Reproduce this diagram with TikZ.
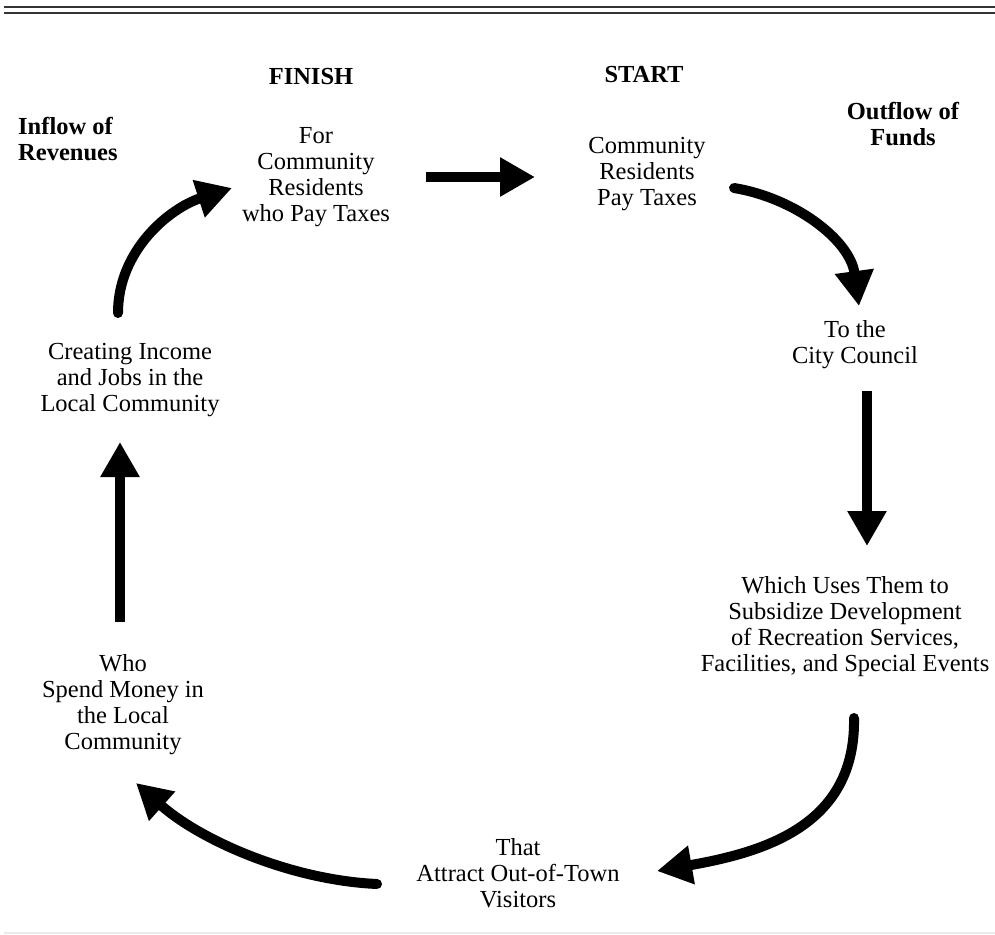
\documentclass[tikz,border=0pt]{standalone}
\usepackage{fontspec}
\setmainfont{Liberation Serif}
\usetikzlibrary{arrows.meta}
\tikzset{
  lbl/.style={font=\fontsize{24.5}{26}\selectfont, align=center, inner sep=0pt},
  hdr/.style={font=\fontsize{24.5}{26}\selectfont\bfseries, align=center, inner sep=0pt},
  flow/.style={line width=10pt, -{Triangle[length=35pt,width=37pt]}},
  cflow/.style={flow, line cap=round},
  rule/.style={line width=2.5pt, draw=black!80}
}
\begin{document}
\begin{tikzpicture}[x=1pt,y=-1pt]
\useasboundingbox (0,0) rectangle (995,934);
% rules
\draw[rule] (4,7) -- (995,7);
\draw[rule] (4,13) -- (995,13);
\draw[line width=1.5pt, draw=black!8] (4,933) -- (995,933);

% headers
\node[hdr] (finish) at (311,77) {FINISH};
\node[hdr] (start) at (644,75) {START};
\node[hdr, align=left, anchor=west] (inflow) at (18,139) {Inflow of\\Revenues};
\node[hdr] (outflow) at (903,124) {Outflow of\\Funds};

% steps
\node[lbl] (forres) at (316,177) {For\\Community\\Residents\\who Pay Taxes};
\node[lbl] (pay) at (647,174) {Community\\Residents\\Pay Taxes};
\node[lbl] (council) at (855,345) {To the\\City Council};
\node[lbl] (uses) at (845,627) {Which Uses Them to\\Subsidize Development\\of Recreation Services,\\Facilities, and Special Events};
\node[lbl] (attract) at (518,873) {That\\Attract Out-of-Town\\Visitors};
\node[lbl] (spend) at (123,705) {Who\\Spend Money in\\the Local\\Community};
\node[lbl] (income) at (130,380) {Creating Income\\and Jobs in the\\Local Community};

% arrow end points
\coordinate (a1s) at (426,177); \coordinate (a1e) at (535,177);
\coordinate (a2s) at (734,188); \coordinate (a2e) at (859,306);
\coordinate (a3s) at (867,391); \coordinate (a3e) at (867,546);
\coordinate (a4s) at (854,718); \coordinate (a4e) at (657,871);
\coordinate (a5s) at (377,884); \coordinate (a5e) at (136,783);
\coordinate (a6s) at (120,622); \coordinate (a6e) at (120,442);
\coordinate (a7s) at (118,313); \coordinate (a7e) at (232,188);

% arrows
\draw[flow] (a1s) -- (a1e);
\draw[cflow] (a2s) .. controls (795,198) and (850,240) .. (a2e);
\draw[flow] (a3s) -- (a3e);
\draw[cflow] (a4s) .. controls (856,825) and (765,852) .. (a4e);
\draw[cflow] (a5s) .. controls (290,880) and (200,840) .. (a5e);
\draw[flow] (a6s) -- (a6e);
\draw[cflow] (a7s) .. controls (118,250) and (170,208) .. (a7e);
\end{tikzpicture}
\end{document}
